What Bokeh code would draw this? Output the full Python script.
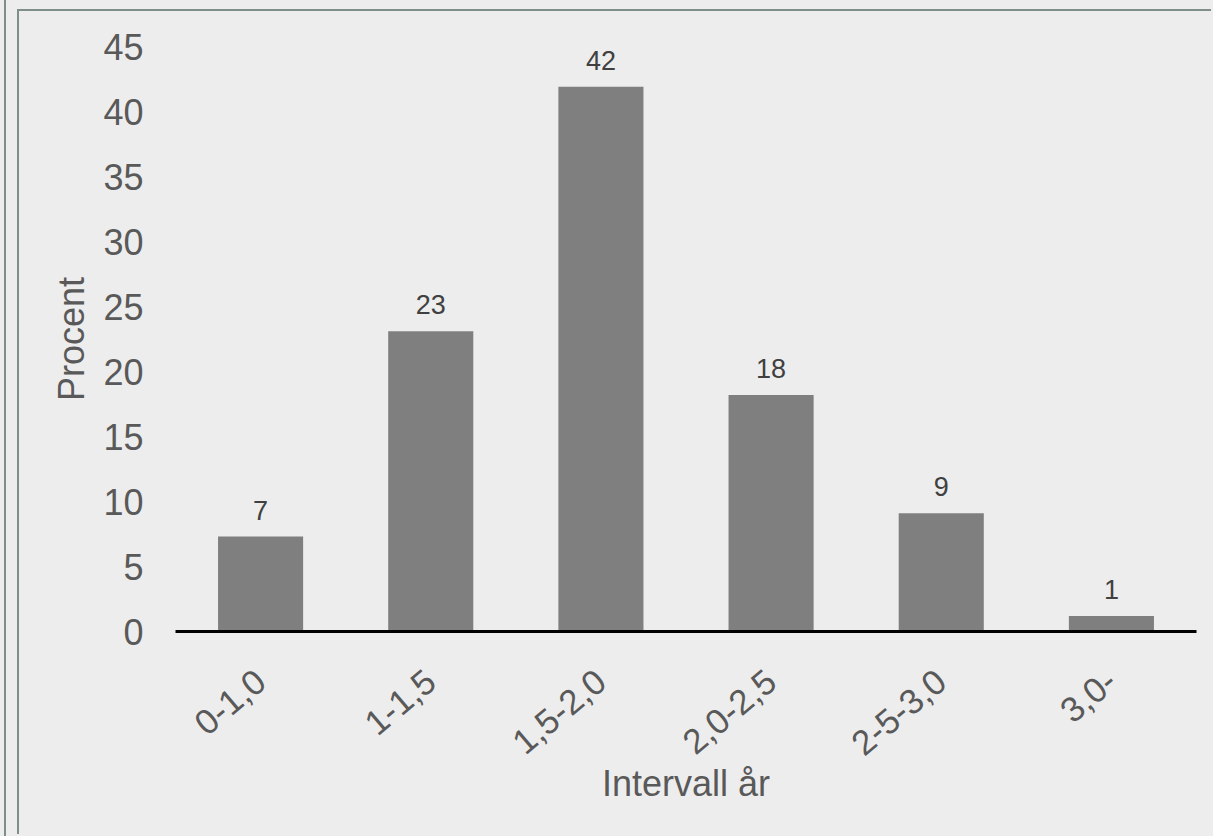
from bokeh.plotting import figure
from bokeh.models import ColumnDataSource, LabelSet, Range1d, FactorRange, FixedTicker, GlobalInlineStyleSheet
from bokeh.core.properties import value
from bokeh.embed import file_html
from bokeh.resources import INLINE

categories = ["0-1,0", "1-1,5", "1,5-2,0", "2,0-2,5", "2-5-3,0", "3,0-"]
values = [7.3, 23.1, 41.9, 18.2, 9.1, 1.2]
value_labels = ["7", "23", "42", "18", "9", "1"]
y_ticks = [0, 5, 10, 15, 20, 25, 30, 35, 40, 45]

FONT = "Liberation Sans"
BG = "#EDEDED"
EDGE = "#7F8F88"

src = ColumnDataSource(dict(cat=categories, val=values, lab=value_labels))

page_css = GlobalInlineStyleSheet(css=f"""
html, body {{ margin: 0; padding: 0; overflow: hidden;
  background: linear-gradient(to right, {BG} 4px, {EDGE} 4px, {EDGE} 6px, {BG} 6px); }}
""")

p = figure(
    x_range=FactorRange(*categories),
    y_range=Range1d(0, 45),
    width=1194, height=825,
    output_backend="svg", toolbar_location=None,
    min_border_left=156, min_border_right=17,
    min_border_top=35, min_border_bottom=205,
    background_fill_color=BG, border_fill_color=BG,
    margin=(9, 0, 0, 17),
    styles={"border-left": f"2px solid {EDGE}", "border-top": f"2px solid {EDGE}"},
    stylesheets=[page_css],
)
p.outline_line_color = None
p.grid.visible = False

p.vbar(x="cat", top="val", width=0.5, source=src, fill_color="#7F7F7F", line_color=None)

labels = LabelSet(x="cat", y="val", text="lab", source=src, y_offset=17,
                  text_align="center", text_baseline="alphabetic",
                  text_font=value(FONT), text_font_size="27px", text_color="#404040")
p.add_layout(labels)

# y axis
p.yaxis.ticker = FixedTicker(ticks=y_ticks)
p.yaxis.axis_line_color = None
p.yaxis.major_tick_line_color = None
p.yaxis.minor_tick_line_color = None
p.yaxis.major_tick_out = 0
p.yaxis.major_tick_in = 0
p.yaxis.major_label_standoff = 32
p.yaxis.major_label_text_font = FONT
p.yaxis.major_label_text_font_size = "36px"
p.yaxis.major_label_text_color = "#595959"
p.yaxis.axis_label = "Procent"
p.yaxis.axis_label_text_font = FONT
p.yaxis.axis_label_text_font_size = "36px"
p.yaxis.axis_label_text_font_style = "normal"
p.yaxis.axis_label_text_color = "#595959"
p.yaxis.axis_label_standoff = 8

# x axis
p.xaxis.axis_line_color = "black"
p.xaxis.axis_line_width = 3
p.xaxis.major_tick_line_color = None
p.xaxis.minor_tick_line_color = None
p.xaxis.major_tick_out = 0
p.xaxis.major_tick_in = 0
p.xaxis.major_label_orientation = 0.70
p.xaxis.major_label_standoff = 45
p.xaxis.major_label_text_font = FONT
p.xaxis.major_label_text_font_size = "35px"
p.xaxis.major_label_text_color = "#595959"
p.xaxis.axis_label = "Intervall år"
p.xaxis.axis_label_text_font = FONT
p.xaxis.axis_label_text_font_size = "36px"
p.xaxis.axis_label_text_font_style = "normal"
p.xaxis.axis_label_text_color = "#595959"
p.xaxis.axis_label_standoff = -6

open("out.html", "w").write(file_html(p, INLINE))
